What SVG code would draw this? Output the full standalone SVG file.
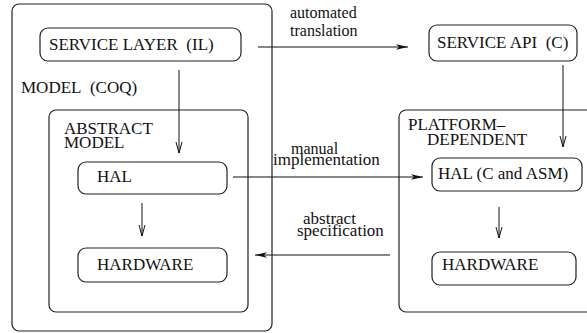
<svg xmlns="http://www.w3.org/2000/svg" width="587" height="333" viewBox="0 0 587 333">
<style>
.box{fill:none;stroke:#222;stroke-width:1.2}
.c{fill:none;stroke:#111;stroke-width:1}
</style>
<defs>
<marker id="open" markerUnits="userSpaceOnUse" markerWidth="12" markerHeight="10" refX="11" refY="4" orient="auto">
<path d="M0,1 L11,4 L0,7" fill="none" stroke="#111" stroke-width="1"/>
</marker>
<marker id="fill" markerUnits="userSpaceOnUse" markerWidth="14" markerHeight="8" refX="12" refY="4" orient="auto">
<path d="M0,1.3 L12,4 L0,6.7 L3,4 Z" fill="#111"/>
</marker>
</defs>
<g id="model">
<rect class="box" x="12" y="4" width="260" height="327" rx="7"/>
<text font-family="Liberation Serif" font-size="17" fill="#111" x="21" y="93">MODEL&#160; (COQ)</text>
</g>
<g id="service-layer">
<rect class="box" x="40" y="28" width="201" height="33" rx="8"/>
<text font-family="Liberation Serif" font-size="17" fill="#111" x="49" y="50">SERVICE LAYER&#160; (IL)</text>
</g>
<g id="abstract-model">
<rect class="box" x="49" y="110" width="199" height="202" rx="7"/>
<text font-family="Liberation Serif" font-size="17" fill="#111" x="64" y="134">ABSTRACT</text>
<text font-family="Liberation Serif" font-size="17" fill="#111" x="64" y="148">MODEL</text>
</g>
<g id="hal">
<rect class="box" x="78" y="162" width="149" height="32" rx="8"/>
<text font-family="Liberation Serif" font-size="17" fill="#111" x="97" y="182">HAL</text>
</g>
<g id="hardware">
<rect class="box" x="78" y="248" width="149" height="34" rx="8"/>
<text font-family="Liberation Serif" font-size="17" fill="#111" x="97" y="270">HARDWARE</text>
</g>
<g id="service-api">
<rect class="box" x="429" y="25" width="148" height="36" rx="8"/>
<text font-family="Liberation Serif" font-size="17" fill="#111" x="437" y="48">SERVICE API&#160; (C)</text>
</g>
<g id="platform-dependent">
<rect class="box" x="399" y="110" width="210" height="202" rx="7"/>
<text font-family="Liberation Serif" font-size="17" fill="#111" x="408" y="130">PLATFORM–</text>
<text font-family="Liberation Serif" font-size="17" fill="#111" x="427" y="145">DEPENDENT</text>
</g>
<g id="hal-c-asm">
<rect class="box" x="432" y="158" width="150" height="33" rx="8"/>
<text font-family="Liberation Serif" font-size="17" fill="#111" x="438" y="179">HAL (C and ASM)</text>
</g>
<g id="hardware-2">
<rect class="box" x="432" y="252" width="144" height="33" rx="8"/>
<text font-family="Liberation Serif" font-size="17" fill="#111" x="442" y="270">HARDWARE</text>
</g>
<g id="connectors">
<line class="c" x1="179" y1="70" x2="179" y2="153" marker-end="url(#open)"/>
<line class="c" x1="142" y1="203" x2="142" y2="236" marker-end="url(#open)"/>
<line class="c" x1="563" y1="65" x2="563" y2="147" marker-end="url(#open)"/>
<line class="c" x1="499" y1="207" x2="499" y2="238" marker-end="url(#open)"/>
<line class="c" x1="258" y1="47" x2="408" y2="47" marker-end="url(#fill)"/>
<line class="c" x1="233" y1="177" x2="423" y2="177" marker-end="url(#fill)"/>
<line class="c" x1="390" y1="255" x2="255" y2="255" marker-end="url(#fill)" stroke="#444"/>
<text font-family="Liberation Serif" font-size="16" fill="#111" x="290" y="18">automated</text>
<text font-family="Liberation Serif" font-size="16" fill="#111" x="290" y="36">translation</text>
<text font-family="Liberation Serif" font-size="16" fill="#111" x="291" y="154">manual</text>
<text font-family="Liberation Serif" font-size="17" fill="#111" x="273" y="165">implementation</text>
<text font-family="Liberation Serif" font-size="17" fill="#111" x="303" y="224">abstract</text>
<text font-family="Liberation Serif" font-size="17" fill="#111" x="297" y="236">specification</text>
</g>
</svg>
